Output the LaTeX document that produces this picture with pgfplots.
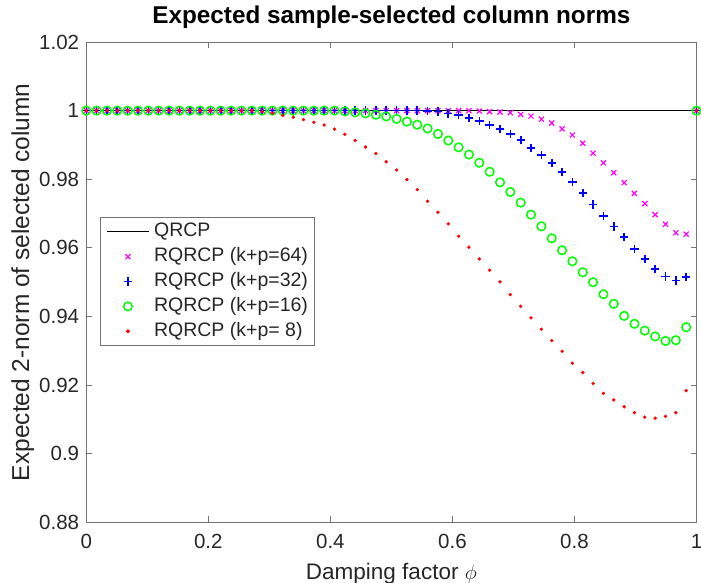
\documentclass[border=0pt]{standalone}
\usepackage{fontspec}
\setmainfont{Liberation Sans}
\usepackage{pgfplots}
\pgfplotsset{compat=1.18}
\usepackage{pgfplotstable}
\definecolor{mgreen}{rgb}{0,1,0}
\definecolor{mmag}{rgb}{1,0,1}
\definecolor{mblue}{rgb}{0,0,1}
\definecolor{mred}{rgb}{1,0,0}
\definecolor{axgray}{rgb}{0.45,0.45,0.45}
\definecolor{txt}{rgb}{0.15,0.15,0.15}
\pgfplotsset{
  lineleg/.style={legend image code/.code={\draw[##1] (0pt,0pt) -- (41.6pt,0pt);}},
  markleg/.style={legend image code/.code={\draw[mark repeat=2,mark phase=2,##1] plot coordinates {(0pt,0pt) (20.8pt,0pt) (41.6pt,0pt)};}},
}

\pgfplotstableread{
x m64 b32 g16 r8
0 1 1 1 1
0.0169 1 1 1 1
0.0339 1 1 1 1
0.0508 1 1 1 1
0.0678 1 1 1 1
0.0847 1 1 1 1
0.1017 1 1 1 1
0.1186 1 1 1 1
0.1356 1 1 1 1
0.1525 1 1 1 1
0.1695 1 1 1 1
0.1864 1 1 1 1
0.2034 1 1 1 1
0.2203 1 1 1 1
0.2373 1 1 1 1
0.2542 1 1 1 1
0.2712 1 1 1 1
0.2881 1 1 1 0.9998
0.3051 1 1 1 0.9992
0.3220 1 1 1 0.9986
0.3390 1 1 1 0.9981
0.3559 1 1 1 0.9974
0.3729 1 1 1 0.9966
0.3898 1 1 1 0.9958
0.4068 1 1 1 0.9946
0.4237 1 1 0.9998 0.9931
0.4407 1 1 0.9995 0.9913
0.4576 1 1 0.9992 0.9894
0.4746 1 1 0.9988 0.9875
0.4915 1 1 0.9983 0.9851
0.5085 1 1 0.9976 0.9827
0.5254 1 1 0.9968 0.9799
0.5424 1 1 0.9959 0.9770
0.5593 1 0.9999 0.9948 0.9736
0.5763 1 0.9997 0.9932 0.9704
0.5932 1 0.9992 0.9913 0.9670
0.6102 1 0.9987 0.9893 0.9634
0.6271 1 0.9979 0.9872 0.9602
0.6441 0.9999 0.9969 0.9848 0.9568
0.6610 0.9997 0.9959 0.9822 0.9535
0.6780 0.9996 0.9947 0.9791 0.9501
0.6949 0.9994 0.9932 0.9763 0.9464
0.7119 0.9989 0.9914 0.9732 0.9430
0.7288 0.9984 0.9892 0.9697 0.9396
0.7458 0.9975 0.9871 0.9663 0.9363
0.7627 0.9964 0.9848 0.9628 0.9330
0.7797 0.9947 0.9821 0.9593 0.9299
0.7966 0.9929 0.9792 0.9561 0.9264
0.8136 0.9905 0.9760 0.9529 0.9237
0.8305 0.9876 0.9727 0.9500 0.9205
0.8475 0.9848 0.9693 0.9465 0.9176
0.8644 0.9819 0.9662 0.9437 0.9157
0.8814 0.9790 0.9631 0.9402 0.9137
0.8983 0.9759 0.9596 0.9379 0.9120
0.9153 0.9729 0.9567 0.9359 0.9107
0.9322 0.9697 0.9538 0.9342 0.9104
0.9492 0.9669 0.9517 0.9329 0.9109
0.9661 0.9644 0.9505 0.9331 0.9120
0.9831 0.9640 0.9515 0.9369 0.9184
1 1 1 1 1
}\data

\begin{document}
\begin{tikzpicture}
\path[use as bounding box] (0,0) rectangle (701pt,583pt);
\begin{axis}[
  at={(86.3pt,60.5pt)}, anchor=south west,
  scale only axis, width=610.2pt, height=480.5pt,
  xmin=0, xmax=1, ymin=0.88, ymax=1.02,
  clip=false,
  xtick={0,0.2,0.4,0.6,0.8,1},
  xticklabels={0,0.2,0.4,0.6,0.8,1},
  ytick={0.88,0.9,0.92,0.94,0.96,0.98,1,1.02},
  yticklabels={0.88,0.9,0.92,0.94,0.96,0.98,1,1.02},
  tick align=inside, major tick length=6pt,
  axis line style={axgray, line width=0.9pt},
  tick style={axgray, line width=0.9pt},
  ticklabel style={font=\fontsize{20.5}{24}\selectfont, text=txt, inner sep=0pt},
  xticklabel style={anchor=base, yshift=-26.5pt},
  yticklabel style={anchor=east, xshift=-7pt},
  title={Expected sample-selected column norms},
  title style={font=\bfseries\fontsize{24.3}{28}\selectfont, text=black, at={(0.5,1.025)}, anchor=base, inner sep=0pt},
  xlabel={Damping factor $\phi$},
  xlabel style={font=\fontsize{22.5}{27}\selectfont, text=txt, at={(0.5,-0.1176)}, anchor=base, inner sep=0pt},
  ylabel={Expected 2-norm of selected column},
  ylabel style={font=\fontsize{24.5}{28}\selectfont, text=txt, at={(-0.0939,0.5)}, anchor=base, inner sep=0pt},
  legend style={at={(0.0225,0.635)}, anchor=north west, draw=axgray, line width=0.9pt, fill=white,
    font=\fontsize{19.5}{23}\selectfont, text=txt, inner xsep=6pt, inner ysep=5pt,
    row sep=6.85pt, column sep=4.7pt,
    nodes={inner sep=0pt, text height=14pt, text depth=4pt}},
  legend cell align=left,
]
\addplot[black, line width=1.3pt, lineleg] coordinates {(0,1) (1,1)};
\addlegendentry{QRCP}
\addplot[only marks, mark=x, draw=mmag, mark size=3.6pt, line width=1.2pt, markleg] table[x=x,y=m64] {\data};
\addlegendentry{RQRCP (k+p=64)}
\addplot[only marks, mark=+, draw=mblue, mark size=4.2pt, line width=1.6pt, mark options={draw=mblue}, markleg] table[x=x,y=b32] {\data};
\addlegendentry{RQRCP (k+p=32)}
\addplot[only marks, mark=o, draw=mgreen, mark size=4.3pt, line width=1.5pt, markleg] table[x=x,y=g16] {\data};
\addlegendentry{RQRCP (k+p=16)}
\addplot[only marks, mark=*, mred, mark size=1.5pt, mark options={draw=none, fill=mred}, markleg] table[x=x,y=r8] {\data};
\addlegendentry{RQRCP (k+p= 8)}
\end{axis}
\end{tikzpicture}
\end{document}
